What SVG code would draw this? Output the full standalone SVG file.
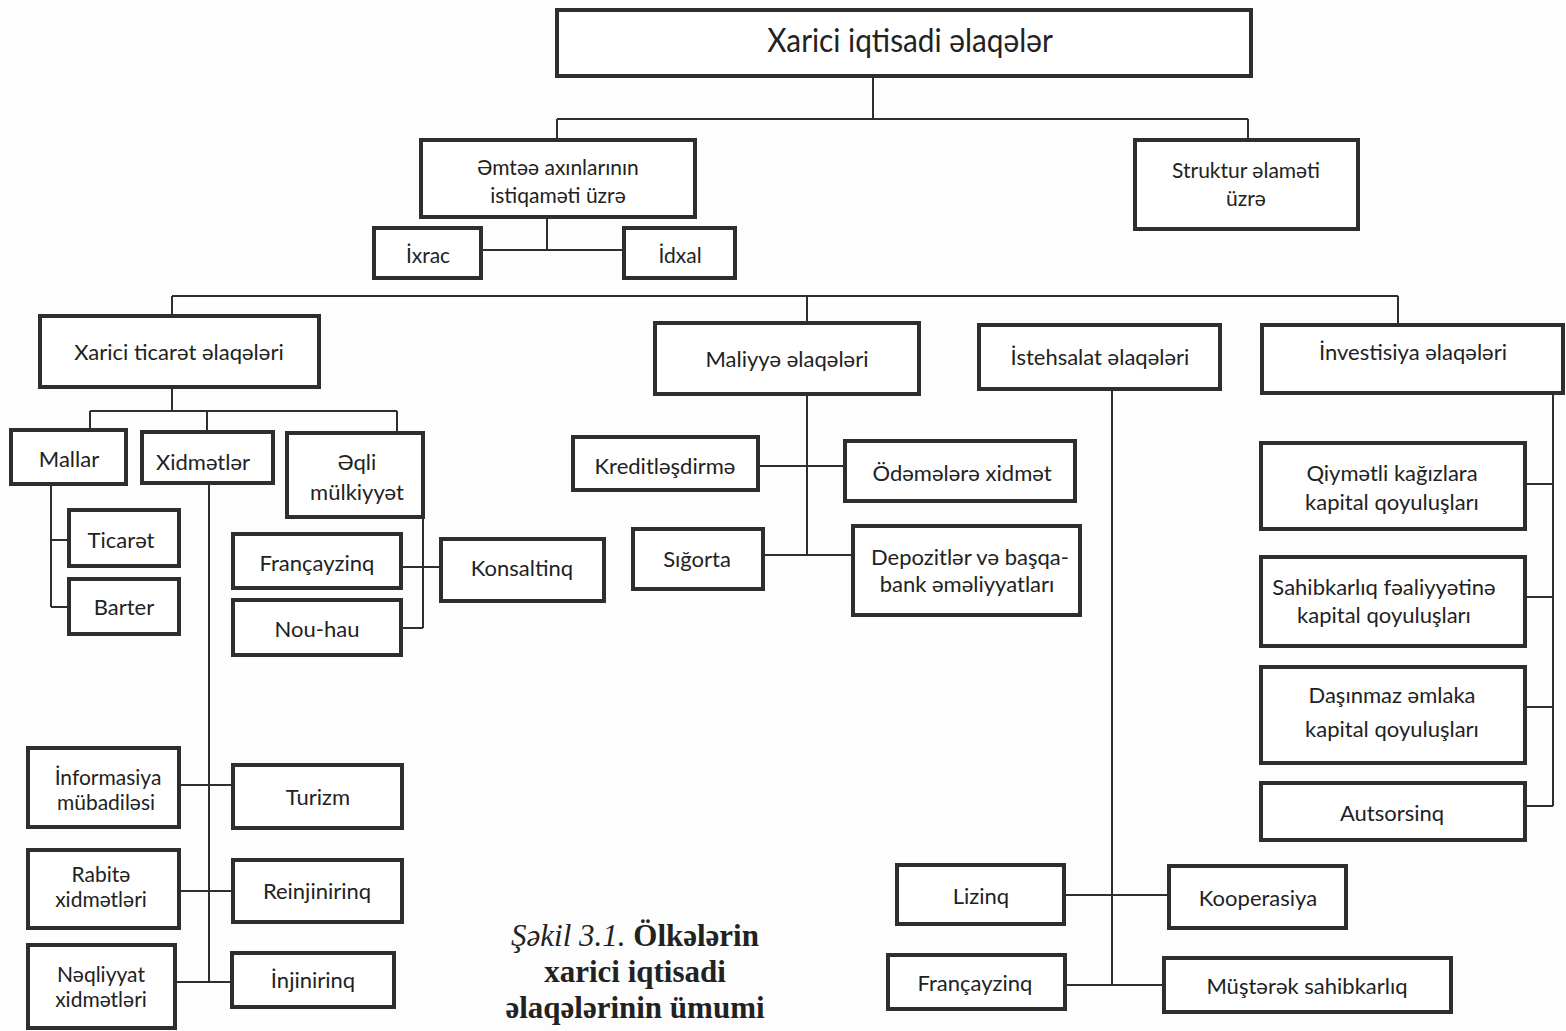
<svg xmlns="http://www.w3.org/2000/svg" width="1566" height="1031" viewBox="0 0 1566 1031">
<style>
.box{fill:#fff;stroke:#2e2e2e;stroke-width:4}
.ln{fill:none;stroke:#2e2e2e;stroke-width:2}
.t{font-family:Lato,"Open Sans","Liberation Sans",sans-serif;font-size:22px;fill:#222;text-anchor:middle}
.s{font-size:21px}
.big{font-size:32px}
.cap{font-family:"Liberation Serif",serif;font-size:31px;fill:#222;text-anchor:middle;font-weight:bold}
</style>
<rect width="1566" height="1031" fill="#fdfdfd"/>
<g id="connectors">
<path class="ln" d="M873 76V119M557 119H1248M557 119V140M1248 119V140"/>
<path class="ln" d="M547 217V250M481 250H624"/>
<path class="ln" d="M172 296H1398M172 296V316M807 296V323M1398 296V325"/>
<path class="ln" d="M172 387V411M90 411H397M90 411V430M207 411V432M397 411V433"/>
<path class="ln" d="M51 484V607M51 540H69M51 607H69"/>
<path class="ln" d="M209 483V982M179 785H233M179 891H233M175 982H232"/>
<path class="ln" d="M423 517V628M401 567H441M401 628H423"/>
<path class="ln" d="M807 394V555M758 466H845M763 555H853"/>
<path class="ln" d="M1112 389V985M1064 895H1169M1065 985H1164"/>
<path class="ln" d="M1553 393V806M1525 484H1553M1525 597H1553M1525 707H1553M1525 806H1553"/>
</g>
<g id="n-root"><rect class="box" x="557" y="10" width="694" height="66"/><text class="t big" transform="translate(910 52) scale(0.93 1)" x="0" y="0">Xarici iqtisadi əlaqələr</text></g>
<g id="n-emtee"><rect class="box" x="421" y="140" width="274" height="77"/><text class="t s" x="558" y="175">Əmtəə axınlarının</text><text class="t s" x="558" y="203">istiqaməti üzrə</text></g>
<g id="n-struktur"><rect class="box" x="1135" y="140" width="223" height="89"/><text class="t s" x="1246" y="178">Struktur əlaməti</text><text class="t s" x="1246" y="206">üzrə</text></g>
<g id="n-ixrac"><rect class="box" x="374" y="228" width="107" height="50"/><text class="t s" x="428" y="263">İxrac</text></g>
<g id="n-idxal"><rect class="box" x="624" y="228" width="111" height="50"/><text class="t s" x="680" y="263">İdxal</text></g>
<g id="n-ticaret-el"><rect class="box" x="40" y="316" width="279" height="71"/><text class="t" x="179" y="360">Xarici ticarət əlaqələri</text></g>
<g id="n-maliyye"><rect class="box" x="655" y="323" width="264" height="71"/><text class="t" x="787" y="367">Maliyyə əlaqələri</text></g>
<g id="n-istehsalat"><rect class="box" x="979" y="325" width="241" height="64"/><text class="t" x="1100" y="365">İstehsalat əlaqələri</text></g>
<g id="n-investisiya"><rect class="box" x="1262" y="325" width="301" height="68"/><text class="t" x="1413" y="360">İnvestisiya əlaqələri</text></g>
<g id="n-mallar"><rect class="box" x="11" y="430" width="115" height="54"/><text class="t" x="69" y="467">Mallar</text></g>
<g id="n-xidmetler"><rect class="box" x="142" y="432" width="131" height="51"/><text class="t" x="203" y="470">Xidmətlər</text></g>
<g id="n-eqli"><rect class="box" x="287" y="433" width="136" height="84"/><text class="t" x="357" y="470">Əqli</text><text class="t" x="357" y="500">mülkiyyət</text></g>
<g id="n-ticaret"><rect class="box" x="69" y="510" width="110" height="56"/><text class="t" x="121" y="548">Ticarət</text></g>
<g id="n-barter"><rect class="box" x="69" y="579" width="110" height="55"/><text class="t" x="124" y="615">Barter</text></g>
<g id="n-francayzinq1"><rect class="box" x="233" y="534" width="168" height="54"/><text class="t" x="317" y="571">Françayzinq</text></g>
<g id="n-nouhau"><rect class="box" x="233" y="600" width="168" height="55"/><text class="t" x="317" y="637">Nou-hau</text></g>
<g id="n-konsaltinq"><rect class="box" x="441" y="539" width="163" height="62"/><text class="t" x="522" y="576">Konsaltinq</text></g>
<g id="n-informasiya"><rect class="box" x="28" y="748" width="151" height="79"/><text class="t s" x="108" y="785">İnformasiya</text><text class="t s" x="106" y="810">mübadiləsi</text></g>
<g id="n-turizm"><rect class="box" x="233" y="765" width="169" height="63"/><text class="t" x="318" y="805">Turizm</text></g>
<g id="n-rabite"><rect class="box" x="28" y="850" width="151" height="78"/><text class="t s" x="101" y="882">Rabitə</text><text class="t s" x="101" y="907">xidmətləri</text></g>
<g id="n-reinjinirinq"><rect class="box" x="233" y="860" width="169" height="62"/><text class="t" x="317" y="899">Reinjinirinq</text></g>
<g id="n-neqliyyat"><rect class="box" x="28" y="945" width="147" height="83"/><text class="t s" x="101" y="982">Nəqliyyat</text><text class="t s" x="101" y="1007">xidmətləri</text></g>
<g id="n-injinirinq"><rect class="box" x="232" y="953" width="162" height="54"/><text class="t" x="313" y="988">İnjinirinq</text></g>
<g id="n-kredit"><rect class="box" x="573" y="437" width="185" height="53"/><text class="t" x="665" y="474">Kreditləşdirmə</text></g>
<g id="n-odemeler"><rect class="box" x="845" y="441" width="230" height="60"/><text class="t" x="962" y="481">Ödəmələrə xidmət</text></g>
<g id="n-sigorta"><rect class="box" x="633" y="529" width="130" height="60"/><text class="t" x="697" y="567">Sığorta</text></g>
<g id="n-depozit"><rect class="box" x="853" y="526" width="227" height="89"/><text class="t" x="970" y="565">Depozitlər və başqa-</text><text class="t" x="967" y="592">bank əməliyyatları</text></g>
<g id="n-qiymetli"><rect class="box" x="1261" y="443" width="264" height="86"/><text class="t" x="1392" y="481">Qiymətli kağızlara</text><text class="t" x="1392" y="510">kapital qoyuluşları</text></g>
<g id="n-sahibkarliq"><rect class="box" x="1261" y="557" width="264" height="89"/><text class="t" x="1384" y="595">Sahibkarlıq fəaliyyətinə</text><text class="t" x="1384" y="623">kapital qoyuluşları</text></g>
<g id="n-dasinmaz"><rect class="box" x="1261" y="667" width="264" height="96"/><text class="t" x="1392" y="703">Daşınmaz əmlaka</text><text class="t" x="1392" y="737">kapital qoyuluşları</text></g>
<g id="n-autsorsinq"><rect class="box" x="1261" y="783" width="264" height="57"/><text class="t" x="1392" y="821">Autsorsinq</text></g>
<g id="n-lizinq"><rect class="box" x="897" y="865" width="167" height="59"/><text class="t" x="981" y="904">Lizinq</text></g>
<g id="n-kooperasiya"><rect class="box" x="1169" y="866" width="177" height="62"/><text class="t" x="1258" y="906">Kooperasiya</text></g>
<g id="n-francayzinq2"><rect class="box" x="888" y="955" width="177" height="54"/><text class="t" x="975" y="991">Françayzinq</text></g>
<g id="n-musterek"><rect class="box" x="1164" y="958" width="287" height="54"/><text class="t" x="1307" y="994">Müştərək sahibkarlıq</text></g>
<g id="caption">
<text class="cap" x="635" y="946"><tspan font-style="italic" font-weight="normal">Şəkil 3.1.</tspan> Ölkələrin</text>
<text class="cap" x="635" y="982">xarici iqtisadi</text>
<text class="cap" x="635" y="1018">əlaqələrinin ümumi</text>
</g>
</svg>
